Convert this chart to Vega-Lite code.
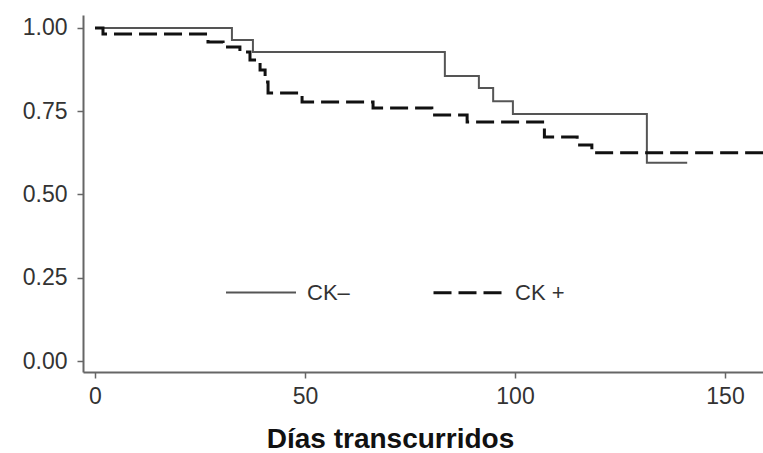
{
  "$schema": "https://vega.github.io/schema/vega-lite/v6.json",
  "width": 680,
  "height": 357,
  "autosize": {"type": "none"},
  "padding": {"left": 83, "top": 15, "right": 0, "bottom": 81},
  "background": "white",
  "config": {
    "view": {"stroke": null},
    "font": "Liberation Sans",
    "axis": {"grid": false, "domainColor": "#666", "domainWidth": 2, "tickColor": "#666", "tickWidth": 1.5, "tickSize": 6, "labelFont": "Liberation Sans", "labelFontSize": 23, "labelColor": "#333"}
  },
  "data": {"values": [
    {"dias": 0, "surv": 1.0, "grupo": "CK–"},
    {"dias": 32.6, "surv": 0.964, "grupo": "CK–"},
    {"dias": 37.6, "surv": 0.928, "grupo": "CK–"},
    {"dias": 83.3, "surv": 0.856, "grupo": "CK–"},
    {"dias": 91.4, "surv": 0.82, "grupo": "CK–"},
    {"dias": 94.8, "surv": 0.78, "grupo": "CK–"},
    {"dias": 99.5, "surv": 0.742, "grupo": "CK–"},
    {"dias": 131.4, "surv": 0.595, "grupo": "CK–"},
    {"dias": 141, "surv": 0.595, "grupo": "CK–"},
    {"dias": 0, "surv": 1.0, "grupo": "CK +"},
    {"dias": 1.9, "surv": 0.982, "grupo": "CK +"},
    {"dias": 26.9, "surv": 0.958, "grupo": "CK +"},
    {"dias": 30.5, "surv": 0.943, "grupo": "CK +"},
    {"dias": 34.5, "surv": 0.928, "grupo": "CK +"},
    {"dias": 36.9, "surv": 0.904, "grupo": "CK +"},
    {"dias": 39.3, "surv": 0.874, "grupo": "CK +"},
    {"dias": 40.5, "surv": 0.838, "grupo": "CK +"},
    {"dias": 41.2, "surv": 0.805, "grupo": "CK +"},
    {"dias": 49.3, "surv": 0.778, "grupo": "CK +"},
    {"dias": 66.2, "surv": 0.76, "grupo": "CK +"},
    {"dias": 80.2, "surv": 0.739, "grupo": "CK +"},
    {"dias": 88.6, "surv": 0.718, "grupo": "CK +"},
    {"dias": 107, "surv": 0.673, "grupo": "CK +"},
    {"dias": 114.8, "surv": 0.649, "grupo": "CK +"},
    {"dias": 118.3, "surv": 0.625, "grupo": "CK +"},
    {"dias": 160, "surv": 0.625, "grupo": "CK +"}
  ]},
  "mark": {"type": "line", "interpolate": "step-after", "clip": true},
  "encoding": {
    "x": {"field": "dias", "type": "quantitative",
      "scale": {"domain": [-2.86, 159.05], "nice": false, "zero": false},
      "axis": {"values": [0, 50, 100, 150], "labelPadding": 7, "title": "Días transcurridos", "titleFont": "Liberation Sans", "titleFontSize": 28, "titleFontWeight": "bold", "titleColor": "#111", "titleX": 307, "titleY": 75, "titleBaseline": "alphabetic", "titleAlign": "center", "titleAnchor": null}},
    "y": {"field": "surv", "type": "quantitative",
      "scale": {"domain": [-0.033, 1.039], "nice": false, "zero": false},
      "axis": {"values": [0, 0.25, 0.5, 0.75, 1], "format": ".2f", "labelPadding": 10, "title": null}},
    "color": {"field": "grupo", "type": "nominal",
      "scale": {"domain": ["CK–", "CK +"], "range": ["#555555", "#111111"]},
      "legend": {"title": null, "orient": "none", "direction": "horizontal", "legendX": 142, "legendY": 241, "padding": 0, "symbolType": "stroke", "symbolSize": 4900, "symbolStrokeWidth": 2.5, "labelFont": "Liberation Sans", "labelFontSize": 22, "labelColor": "#333", "labelOffset": 10, "columnPadding": 77}},
    "strokeDash": {"field": "grupo", "type": "nominal",
      "scale": {"domain": ["CK–", "CK +"], "range": [[1, 0], [18, 7]]},
      "legend": {"title": null, "orient": "none", "direction": "horizontal", "legendX": 142, "legendY": 241, "padding": 0, "symbolType": "stroke", "symbolSize": 4900, "symbolStrokeWidth": 2.5, "labelFont": "Liberation Sans", "labelFontSize": 22, "labelColor": "#333", "labelOffset": 10, "columnPadding": 77}},
    "strokeWidth": {"field": "grupo", "type": "nominal",
      "scale": {"domain": ["CK–", "CK +"], "range": [2, 3]},
      "legend": {"title": null, "orient": "none", "direction": "horizontal", "legendX": 142, "legendY": 241, "padding": 0, "symbolType": "stroke", "symbolSize": 4900, "labelFont": "Liberation Sans", "labelFontSize": 22, "labelColor": "#333", "labelOffset": 10, "columnPadding": 77}}
  }
}
